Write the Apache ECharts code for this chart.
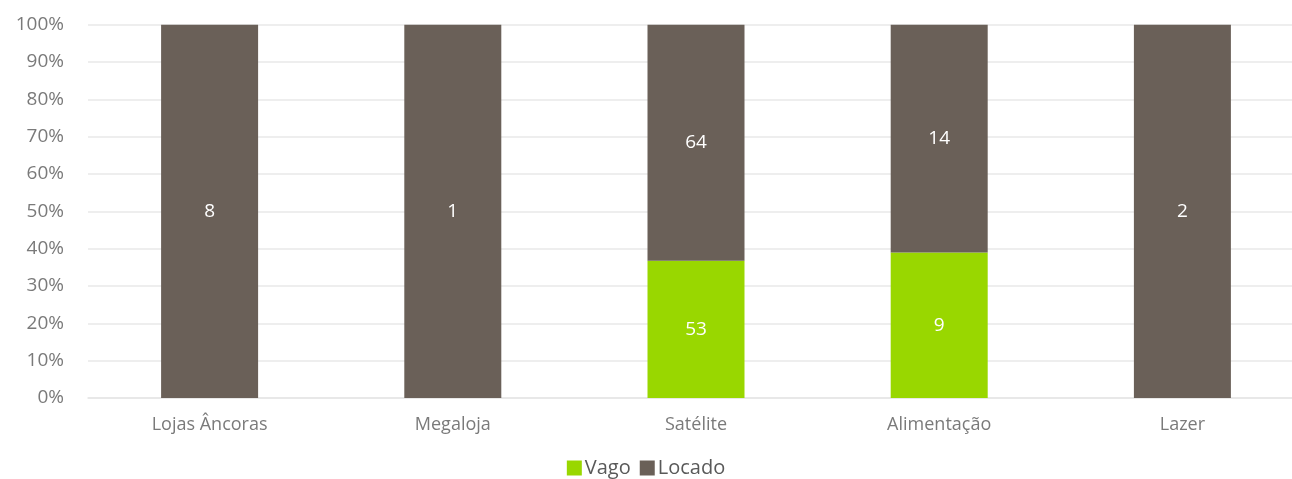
<!DOCTYPE html>
<html>
<head>
<meta charset="utf-8">
<script src="https://cdn.jsdelivr.net/npm/echarts@6/dist/echarts.min.js"></script>
<style>
  html, body { margin: 0; padding: 0; background: #fff; }
  #chart { width: 1292px; height: 479px; }
</style>
</head>
<body>
<div id="chart"></div>
<script>
// categorias e valores
const categories = ['Lojas Âncoras', 'Megaloja', 'Satélite', 'Alimentação', 'Lazer'];
const vagoPct = [0, 0, 36.8, 39.0, 0];
const locadoPct = [100, 100, 63.2, 61.0, 100];
const vagoCount = [0, 0, 53, 9, 0];
const locadoCount = [8, 1, 64, 14, 2];
const yTicks = [0, 10, 20, 30, 40, 50, 60, 70, 80, 90, 100];

const dom = document.getElementById('chart');
const myChart = echarts.init(dom);

const labelStyle = (counts) => ({
    show: true,
    position: 'inside',
    color: '#ffffff',
    fontSize: 19,
    fontFamily: 'Open Sans',
    formatter: (p) => counts[p.dataIndex] > 0 ? String(counts[p.dataIndex]) : ''
});

const option = {
    animation: false,
    grid: { left: 88, top: 24.7, right: -12, bottom: 81, outerBoundsMode: 'none', containLabel: false },
    legend: {
        bottom: -4,
        left: 'center',
        itemWidth: 15,
        itemHeight: 15,
        itemGap: 9,
        icon: 'rect',
        textStyle: { color: '#595959', fontSize: 20, fontFamily: 'Open Sans', padding: [0, 0, 0, -2] },
        data: ['Vago', 'Locado']
    },
    xAxis: {
        type: 'category',
        data: categories,
        axisLine: { show: true, lineStyle: { color: '#e6e6e6', width: 1.5 } },
        axisTick: { show: false },
        axisLabel: { color: '#7a7a7a', fontSize: 18, fontFamily: 'Open Sans', margin: 18 }
    },
    yAxis: {
        type: 'value',
        min: yTicks[0],
        max: yTicks[yTicks.length - 1],
        interval: 10,
        axisLine: { show: false },
        axisTick: { show: false },
        splitLine: { lineStyle: { color: '#e9e9e9', width: 1.5 } },
        axisLabel: {
            color: '#7a7a7a',
            fontSize: 19,
            fontFamily: 'Open Sans',
            margin: 24,
            formatter: (v) => v + '%'
        }
    },
    series: [
        {
            name: 'Vago',
            type: 'bar',
            stack: 'total',
            barWidth: 97,
            itemStyle: { color: '#99d700' },
            label: labelStyle(vagoCount),
            data: vagoPct
        },
        {
            name: 'Locado',
            type: 'bar',
            stack: 'total',
            barWidth: 97,
            itemStyle: { color: '#6a6058' },
            label: labelStyle(locadoCount),
            data: locadoPct
        }
    ]
};
myChart.setOption(option);
</script>
</body>
</html>
